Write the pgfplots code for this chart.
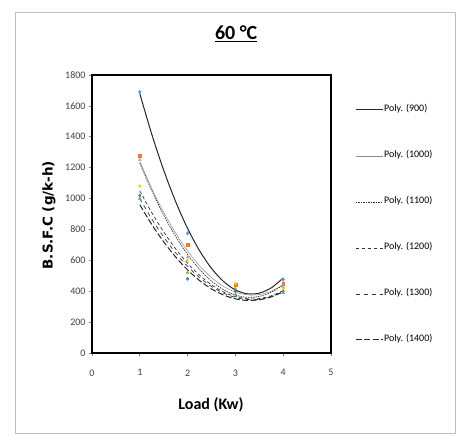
\documentclass[border=0pt]{standalone}
\usepackage{pgfplots}
\pgfplotsset{compat=1.18}
\usepackage{fontspec}
\setmainfont{Carlito}
\newfontfamily\dvs{DejaVu Sans}
\definecolor{sA}{HTML}{5B9BD5}
\definecolor{sB}{HTML}{ED7D31}
\definecolor{sC}{HTML}{A5A5A5}
\definecolor{sD}{HTML}{FFC000}
\definecolor{sE}{HTML}{4472C4}
\definecolor{sF}{HTML}{70AD47}
\begin{document}
\begin{tikzpicture}
\path (0pt,0pt) rectangle (456pt,437pt);
\draw[black!25, line width=0.8pt] (15pt,4pt) rectangle (455pt,425pt);
\begin{axis}[
  at={(92pt,84pt)}, anchor=south west,
  scale only axis, width=239pt, height=278pt,
  xmin=0, xmax=5, ymin=0, ymax=1800,
  xtick={0,1,2,3,4,5}, ytick={0,200,...,1800},
  tick align=outside, xtick pos=bottom, ytick pos=left,
  major tick length=3pt,
  tick style={black!50, line width=0.6pt},
  axis line style={line width=1.5pt},
  ticklabel style={font=\fontsize{10}{12}\selectfont, text=black!75},
  /pgf/number format/assume math mode=true,
  /pgf/number format/1000 sep={},
  xticklabel style={yshift=-10pt},
  xlabel={\textbf{Load (Kw)}},
  xlabel style={at={(axis description cs:0.498,-0.187)}, anchor=center, font=\fontsize{16}{18}\selectfont},
  ylabel={\dvs\bfseries B.S.F.C (g/k-h)},
  ylabel style={at={(axis description cs:-0.18,0.496)}, anchor=center, font=\fontsize{13.5}{16}\selectfont},
  title={\underline{\textbf{60 °C}}},
  title style={at={(axis description cs:0.603,1.126)}, anchor=center, font=\fontsize{20}{24}\selectfont},
  legend cell align=left,
  legend style={draw=none, fill=none, at={(rel axis cs:1.100,0.893)}, anchor=north west,
    font=\fontsize{10}{12}\selectfont, inner sep=0pt, row sep=36pt,
    nodes={inner sep=1pt, text height=6pt, text depth=2pt}},
  legend image code/.code={\draw[#1] (0cm,0cm) -- (0.95cm,0cm);},
]
% data markers (no legend)
\addplot[only marks, mark=diamond*, mark size=1.8pt, color=sA, forget plot] coordinates {(1,1690) (2,775) (3,440) (4,475)};
\addplot[only marks, mark=square*, mark size=1.4pt, color=sB, forget plot] coordinates {(1,1280) (2,700) (3,440) (4,450)};
\addplot[only marks, mark=triangle*, mark size=1.6pt, color=sC, forget plot] coordinates {(1,1250) (2,620) (3,420) (4,430)};
\addplot[only marks, mark=triangle*, mark size=1.6pt, color=sD, forget plot] coordinates {(1,1080) (2,600) (3,450) (4,420)};
\addplot[only marks, mark=diamond*, mark size=1.6pt, color=sE, forget plot] coordinates {(1,1020) (2,480) (3,400) (4,400)};
\addplot[only marks, mark=triangle*, mark size=1.6pt, color=sF, forget plot] coordinates {(1,1000) (2,520) (3,380) (4,390)};
% trendlines
\addplot[smooth, black!85, line width=1pt] coordinates {
(1,1679.5) (1.25,1416.7) (1.5,1183.6) (1.75,980.2) (2,806.5) (2.25,662.4) (2.5,548.1) (2.75,463.5) (3,408.5) (3.25,383.2) (3.5,387.6) (3.75,421.7) (4,485.5)};
\addlegendentry{Poly. (900)}
\addplot[smooth, black!45, line width=0.5pt] coordinates {
(1,1239.8) (1.25,1065.6) (1.5,911.0) (1.75,775.9) (2,660.4) (2.25,564.5) (2.5,488.1) (2.75,431.4) (3,394.2) (3.25,376.6) (3.5,378.5) (3.75,400.1) (4,441.2)};
\addlegendentry{Poly. (1000)}
\addplot[smooth, black!80, line width=0.7pt, dash pattern=on 1.5pt off 1pt] coordinates {
(1,1230.2) (1.25,1051.3) (1.5,893.0) (1.75,755.2) (2,638.0) (2.25,541.4) (2.5,465.3) (2.75,409.8) (3,374.8) (3.25,360.4) (3.5,366.6) (3.75,393.3) (4,440.6)};
\addlegendentry{Poly. (1100)}
\addplot[smooth, black!80, line width=0.7pt, dash pattern=on 3.5pt off 2.5pt] coordinates {
(1,1050.3) (1.25,909.2) (1.5,784.0) (1.75,674.6) (2,581.1) (2.25,503.4) (2.5,441.6) (2.75,395.6) (3,365.5) (3.25,351.3) (3.5,352.9) (3.75,370.3) (4,403.6)};
\addlegendentry{Poly. (1200)}
\addplot[smooth, black!80, line width=0.7pt, dash pattern=on 4pt off 4pt] coordinates {
(1,1000.0) (1.25,868.0) (1.5,750.9) (1.75,648.6) (2,561.1) (2.25,488.5) (2.5,430.7) (2.75,387.7) (3,359.5) (3.25,346.2) (3.5,347.7) (3.75,364.0) (4,395.1)};
\addlegendentry{Poly. (1300)}
\addplot[smooth, black!85, line width=1pt, dash pattern=on 6pt off 2.5pt] coordinates {
(1,960.0) (1.25,832.5) (1.5,719.7) (1.75,621.6) (2,538.1) (2.25,469.2) (2.5,415.0) (2.75,375.5) (3,350.5) (3.25,340.3) (3.5,344.7) (3.75,363.7) (4,397.4)};
\addlegendentry{Poly. (1400)}
\end{axis}
\end{tikzpicture}
\end{document}
